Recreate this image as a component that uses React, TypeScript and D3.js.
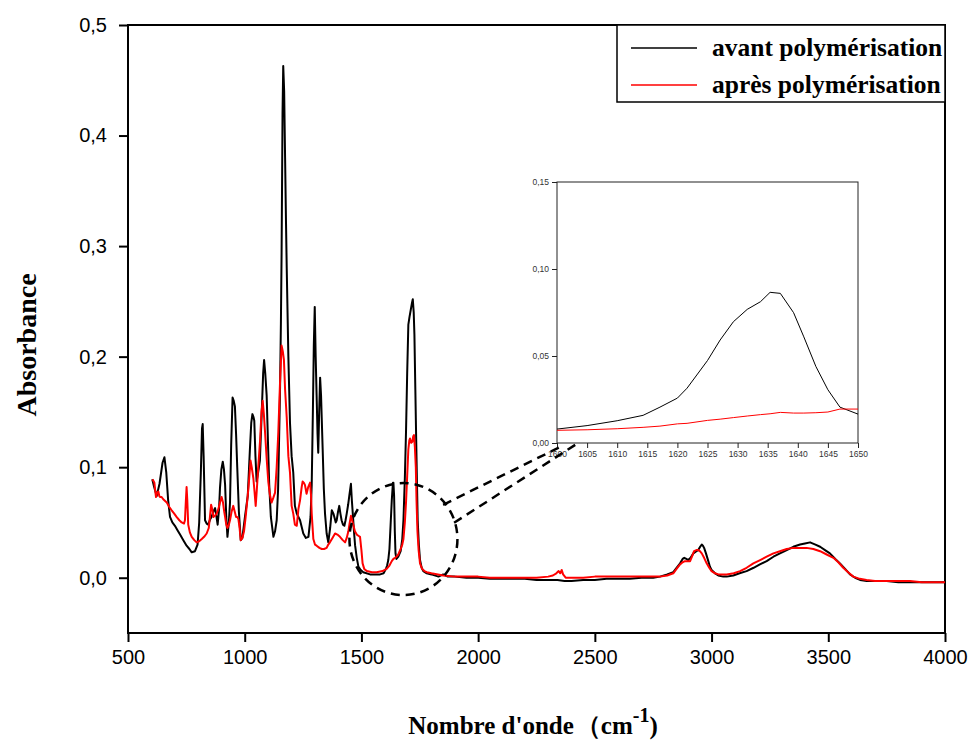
import React, { useRef, useEffect } from 'react';
import * as d3 from 'd3';

// spectrum (cm-1 / absorbance)
const avantWn = [604, 612, 623, 635, 648, 656, 664, 672, 680, 690, 701, 712, 723, 737, 751, 763, 773, 787, 798, 805, 812, 817, 820, 824, 830, 837, 844, 852, 858, 866, 873, 879, 884, 890, 894, 900, 906, 911, 916, 921, 926, 932, 937, 942, 948, 953, 958, 963, 968, 975, 983, 990, 1001, 1013, 1022, 1028, 1033, 1038, 1041, 1046, 1051, 1058, 1065, 1073, 1079, 1083, 1088, 1094, 1100, 1105, 1112, 1123, 1130, 1137, 1143, 1151, 1155, 1158, 1162, 1165, 1169, 1173, 1177, 1180, 1187, 1194, 1201, 1208, 1215, 1223, 1237, 1251, 1262, 1273, 1282, 1287, 1292, 1296, 1300, 1304, 1308, 1312, 1315, 1319, 1323, 1327, 1334, 1339, 1344, 1351, 1358, 1366, 1373, 1380, 1384, 1390, 1394, 1400, 1405, 1410, 1415, 1421, 1427, 1432, 1437, 1443, 1448, 1455, 1459, 1463, 1468, 1473, 1480, 1487, 1497, 1508, 1537, 1580, 1595, 1605, 1610, 1615, 1620, 1625, 1630, 1635, 1637, 1640, 1643, 1646, 1650, 1658, 1668, 1675, 1680, 1686, 1691, 1696, 1701, 1706, 1711, 1716, 1720, 1724, 1727, 1731, 1734, 1738, 1741, 1746, 1751, 1758, 1765, 1780, 1800, 1830, 1850, 1870, 1900, 1950, 2000, 2050, 2100, 2150, 2200, 2250, 2300, 2340, 2370, 2400, 2450, 2500, 2550, 2600, 2650, 2700, 2750, 2779, 2810, 2836, 2850, 2865, 2876, 2883, 2892, 2900, 2910, 2922, 2935, 2943, 2951, 2958, 2963, 2968, 2976, 2986, 2993, 3000, 3015, 3029, 3050, 3065, 3093, 3120, 3150, 3180, 3207, 3236, 3265, 3293, 3322, 3350, 3379, 3400, 3422, 3445, 3465, 3486, 3507, 3530, 3550, 3572, 3593, 3615, 3636, 3665, 3693, 3750, 3800, 3850, 3900, 3950, 4000];
const avantAbs = [0.089, 0.082, 0.074, 0.085, 0.104, 0.109, 0.095, 0.070, 0.055, 0.050, 0.047, 0.043, 0.039, 0.034, 0.029, 0.026, 0.023, 0.024, 0.030, 0.050, 0.095, 0.135, 0.139, 0.110, 0.052, 0.049, 0.048, 0.053, 0.055, 0.060, 0.063, 0.055, 0.048, 0.062, 0.081, 0.098, 0.105, 0.098, 0.084, 0.055, 0.037, 0.050, 0.068, 0.120, 0.163, 0.160, 0.155, 0.130, 0.100, 0.060, 0.034, 0.036, 0.055, 0.074, 0.115, 0.140, 0.148, 0.145, 0.142, 0.110, 0.087, 0.096, 0.106, 0.150, 0.185, 0.197, 0.185, 0.165, 0.120, 0.084, 0.055, 0.037, 0.042, 0.052, 0.080, 0.165, 0.230, 0.294, 0.420, 0.463, 0.440, 0.380, 0.320, 0.280, 0.200, 0.140, 0.110, 0.095, 0.065, 0.058, 0.052, 0.040, 0.036, 0.037, 0.055, 0.084, 0.150, 0.210, 0.245, 0.200, 0.165, 0.130, 0.113, 0.150, 0.181, 0.165, 0.116, 0.080, 0.058, 0.040, 0.032, 0.045, 0.061, 0.058, 0.055, 0.050, 0.052, 0.060, 0.065, 0.058, 0.052, 0.048, 0.047, 0.052, 0.058, 0.066, 0.074, 0.085, 0.070, 0.058, 0.042, 0.029, 0.018, 0.010, 0.007, 0.005, 0.003, 0.003, 0.004, 0.008, 0.011, 0.016, 0.026, 0.048, 0.070, 0.086, 0.086, 0.074, 0.042, 0.022, 0.017, 0.019, 0.024, 0.035, 0.052, 0.090, 0.132, 0.185, 0.229, 0.236, 0.242, 0.248, 0.252, 0.240, 0.220, 0.170, 0.132, 0.085, 0.052, 0.030, 0.016, 0.009, 0.006, 0.004, 0.003, 0.001, 0.003, 0.001, 0.001, 0.000, 0.000, -0.001, -0.001, -0.001, -0.001, -0.002, -0.002, -0.002, -0.003, -0.003, -0.002, -0.002, -0.001, -0.001, -0.001, 0.000, 0.000, 0.001, 0.003, 0.005, 0.009, 0.013, 0.017, 0.018, 0.017, 0.016, 0.018, 0.022, 0.024, 0.025, 0.028, 0.030, 0.029, 0.027, 0.022, 0.015, 0.010, 0.007, 0.004, 0.002, 0.001, 0.001, 0.002, 0.004, 0.006, 0.009, 0.012, 0.015, 0.019, 0.022, 0.025, 0.028, 0.030, 0.031, 0.032, 0.030, 0.028, 0.025, 0.022, 0.017, 0.013, 0.008, 0.003, 0.000, -0.002, -0.003, -0.003, -0.003, -0.004, -0.004, -0.004, -0.004, -0.004];

const apresWn = [604, 608, 613, 617, 620, 625, 630, 634, 637, 644, 651, 666, 677, 687, 698, 708, 720, 730, 740, 744, 748, 751, 754, 758, 765, 773, 784, 794, 805, 816, 826, 837, 846, 851, 856, 861, 866, 872, 880, 887, 894, 901, 907, 912, 916, 921, 926, 932, 937, 944, 951, 957, 963, 968, 973, 978, 983, 990, 997, 1004, 1010, 1016, 1021, 1025, 1030, 1037, 1042, 1047, 1052, 1058, 1066, 1072, 1077, 1082, 1087, 1094, 1101, 1108, 1115, 1122, 1130, 1137, 1144, 1151, 1158, 1163, 1168, 1173, 1180, 1187, 1194, 1201, 1208, 1215, 1223, 1230, 1237, 1244, 1248, 1253, 1258, 1265, 1272, 1280, 1284, 1287, 1294, 1301, 1308, 1320, 1330, 1340, 1351, 1358, 1365, 1376, 1387, 1397, 1408, 1420, 1430, 1437, 1444, 1450, 1455, 1460, 1465, 1472, 1480, 1487, 1494, 1500, 1505, 1512, 1523, 1545, 1565, 1590, 1608, 1620, 1630, 1637, 1644, 1650, 1658, 1668, 1675, 1680, 1686, 1691, 1696, 1701, 1705, 1708, 1713, 1718, 1722, 1725, 1729, 1733, 1736, 1740, 1745, 1751, 1760, 1770, 1780, 1800, 1850, 1900, 1950, 2000, 2050, 2100, 2150, 2200, 2250, 2300, 2320, 2335, 2345, 2352, 2358, 2364, 2375, 2400, 2450, 2500, 2550, 2600, 2650, 2700, 2750, 2779, 2810, 2836, 2850, 2865, 2876, 2886, 2897, 2908, 2916, 2925, 2935, 2943, 2950, 2958, 2968, 2979, 2990, 3000, 3015, 3029, 3065, 3095, 3122, 3150, 3179, 3208, 3236, 3265, 3293, 3322, 3350, 3380, 3407, 3436, 3465, 3493, 3522, 3543, 3564, 3585, 3607, 3635, 3664, 3700, 3764, 3850, 3900, 3950, 4000];
const apresAbs = [0.089, 0.088, 0.086, 0.078, 0.073, 0.077, 0.078, 0.074, 0.073, 0.073, 0.071, 0.068, 0.064, 0.061, 0.058, 0.055, 0.052, 0.050, 0.049, 0.052, 0.070, 0.082, 0.070, 0.048, 0.041, 0.037, 0.034, 0.032, 0.033, 0.035, 0.037, 0.040, 0.045, 0.055, 0.066, 0.062, 0.055, 0.056, 0.058, 0.062, 0.068, 0.073, 0.068, 0.060, 0.055, 0.048, 0.045, 0.048, 0.052, 0.060, 0.065, 0.060, 0.055, 0.055, 0.053, 0.045, 0.034, 0.036, 0.042, 0.055, 0.068, 0.081, 0.095, 0.106, 0.100, 0.090, 0.078, 0.065, 0.080, 0.100, 0.125, 0.150, 0.160, 0.148, 0.132, 0.108, 0.087, 0.075, 0.068, 0.072, 0.077, 0.100, 0.132, 0.175, 0.210, 0.205, 0.197, 0.170, 0.145, 0.110, 0.095, 0.065, 0.058, 0.048, 0.047, 0.062, 0.070, 0.082, 0.087, 0.086, 0.084, 0.076, 0.082, 0.086, 0.075, 0.058, 0.035, 0.030, 0.029, 0.027, 0.026, 0.026, 0.027, 0.030, 0.032, 0.036, 0.040, 0.039, 0.037, 0.034, 0.032, 0.036, 0.042, 0.050, 0.056, 0.052, 0.048, 0.042, 0.039, 0.038, 0.037, 0.025, 0.013, 0.008, 0.006, 0.005, 0.005, 0.006, 0.008, 0.011, 0.015, 0.017, 0.018, 0.019, 0.021, 0.026, 0.030, 0.035, 0.050, 0.068, 0.092, 0.116, 0.124, 0.126, 0.122, 0.123, 0.128, 0.129, 0.118, 0.100, 0.070, 0.042, 0.025, 0.013, 0.008, 0.006, 0.005, 0.004, 0.002, 0.001, 0.001, 0.001, 0.000, 0.000, 0.000, 0.000, 0.000, 0.001, 0.002, 0.004, 0.006, 0.004, 0.007, 0.003, 0.000, 0.000, 0.000, 0.001, 0.001, 0.001, 0.001, 0.001, 0.001, 0.001, 0.002, 0.004, 0.008, 0.012, 0.014, 0.015, 0.015, 0.015, 0.019, 0.024, 0.025, 0.025, 0.024, 0.022, 0.018, 0.013, 0.009, 0.006, 0.004, 0.003, 0.003, 0.004, 0.006, 0.009, 0.013, 0.016, 0.019, 0.022, 0.024, 0.026, 0.027, 0.027, 0.027, 0.026, 0.024, 0.021, 0.018, 0.014, 0.009, 0.005, 0.001, -0.001, -0.002, -0.003, -0.003, -0.003, -0.004, -0.004, -0.004];

// zoomed region 1600-1650 cm-1
const insetWn = [1600, 1605, 1610, 1614.3, 1617.1, 1620, 1621.6, 1625, 1627.1, 1629.3, 1631.6, 1633.8, 1635.4, 1637.1, 1639.3, 1641, 1643, 1645, 1647, 1650];
const insetAvant = [0.008, 0.010, 0.0128, 0.0159, 0.0206, 0.0258, 0.0315, 0.0474, 0.0592, 0.0697, 0.0768, 0.0812, 0.0866, 0.086, 0.0749, 0.061, 0.044, 0.0306, 0.0206, 0.0166];
const insetApres = [0.0073, 0.0076, 0.0082, 0.009, 0.0097, 0.011, 0.0113, 0.013, 0.0137, 0.0146, 0.0155, 0.0163, 0.0168, 0.0176, 0.0172, 0.0172, 0.0174, 0.0178, 0.0195, 0.0195];

const xTicks = [500, 1000, 1500, 2000, 2500, 3000, 3500, 4000];
const yTicks = [0, 0.1, 0.2, 0.3, 0.4, 0.5];
const insetXTicks = [1600, 1605, 1610, 1615, 1620, 1625, 1630, 1635, 1640, 1645, 1650];
const insetYTicks = [0, 0.05, 0.1, 0.15];
const legendLabels = ['avant polymérisation', 'après polymérisation'];
const colors = ['#000000', '#ff0000'];

const App = () => {
  const svgRef = useRef(null);

  useEffect(() => {
    document.body.style.margin = '0';
    const svg = d3.select(svgRef.current);
    svg.selectAll('*').remove();

    const W = 976, H = 742;
    const margin = { top: 25, right: 31, bottom: 109, left: 128 };
    const w = W - margin.left - margin.right;
    const h = H - margin.top - margin.bottom;

    const x = d3.scaleLinear().domain([500, 4000]).range([0, w]);
    const y = d3.scaleLinear().domain([-0.05, 0.5]).range([h, 0]);
    const comma = (f) => (d) => d3.format(f)(d).replace('.', ',');

    const g = svg.append('g').attr('transform', `translate(${margin.left},${margin.top})`);

    // frame
    g.append('rect').attr('width', w).attr('height', h)
      .attr('fill', 'none').attr('stroke', '#000').attr('stroke-width', 2);

    // x axis
    const xAxis = g.append('g').attr('transform', `translate(0,${h})`);
    xAxis.call(d3.axisBottom(x).tickValues(d3.range(500, 4001, 250)).tickSize(6).tickFormat(() => ''));
    xAxis.call(d3.axisBottom(x).tickValues(xTicks).tickSize(9).tickPadding(8).tickFormat(d3.format('d')));
    xAxis.selectAll('.domain').remove();
    xAxis.selectAll('line').attr('stroke-width', 2);
    xAxis.selectAll('text').attr('font-family', 'Liberation Sans, Arial, sans-serif').attr('font-size', 20).attr('fill', '#000');

    // y axis
    const yAxis = g.append('g');
    yAxis.call(d3.axisLeft(y).tickValues(d3.range(-0.05, 0.501, 0.05)).tickSize(6).tickFormat(() => ''));
    yAxis.call(d3.axisLeft(y).tickValues(yTicks).tickSize(9).tickPadding(12).tickFormat(comma('.1f')));
    yAxis.selectAll('.domain').remove();
    yAxis.selectAll('line').attr('stroke-width', 2);
    yAxis.selectAll('text').attr('font-family', 'Liberation Sans, Arial, sans-serif').attr('font-size', 20).attr('fill', '#000');

    // curves
    const line = d3.line().x(d => x(d[0])).y(d => y(d[1]));
    const series = [
      d3.zip(avantWn, avantAbs),
      d3.zip(apresWn, apresAbs),
    ];
    series.forEach((s, i) => {
      g.append('path').datum(s)
        .attr('fill', 'none').attr('stroke', colors[i]).attr('stroke-width', 2)
        .attr('stroke-linejoin', 'round').attr('d', line);
    });

    // legend
    const legend = g.append('g').attr('transform', `translate(${w - 328},0)`);
    legend.append('rect').attr('width', 328).attr('height', 77)
      .attr('fill', '#fff').attr('stroke', '#000').attr('stroke-width', 1.5);
    legendLabels.forEach((lab, i) => {
      const ly = 23 + i * 37;
      legend.append('line').attr('x1', 14).attr('x2', 80).attr('y1', ly).attr('y2', ly)
        .attr('stroke', colors[i]).attr('stroke-width', 1.5);
      legend.append('text').attr('x', 95).attr('y', ly + 8)
        .attr('font-family', 'Liberation Serif, Times New Roman, serif').attr('font-weight', 'bold')
        .attr('font-size', 25.5).text(lab);
    });

    // dashed circle around 1600-1750 region and connectors
    const cx = x(1680), cy = y(0.035);
    g.append('ellipse').attr('cx', cx).attr('cy', cy).attr('rx', 54).attr('ry', 56)
      .attr('fill', 'none').attr('stroke', '#000').attr('stroke-width', 2.5).attr('stroke-dasharray', '9,6');

    // inset
    const ix0 = 557 - margin.left, iy0 = 182 - margin.top;
    const iw = 301, ih = 261;
    const xi = d3.scaleLinear().domain([1600, 1650]).range([0, iw]);
    const yi = d3.scaleLinear().domain([0, 0.15]).range([ih, 0]);
    const inset = g.append('g').attr('transform', `translate(${ix0},${iy0})`);
    inset.append('rect').attr('width', iw).attr('height', ih)
      .attr('fill', '#fff').attr('stroke', '#222').attr('stroke-width', 1);
    const ixa = inset.append('g').attr('transform', `translate(0,${ih})`);
    ixa.call(d3.axisBottom(xi).tickValues(d3.range(1600, 1650.1, 2.5)).tickSize(3).tickFormat(() => ''));
    ixa.call(d3.axisBottom(xi).tickValues(insetXTicks).tickSize(5).tickPadding(3).tickFormat(d3.format('d')));
    const iya = inset.append('g');
    iya.call(d3.axisLeft(yi).tickValues(d3.range(0, 0.1501, 0.025)).tickSize(3).tickFormat(() => ''));
    iya.call(d3.axisLeft(yi).tickValues(insetYTicks).tickSize(5).tickPadding(3).tickFormat(comma('.2f')));
    [ixa, iya].forEach(a => {
      a.selectAll('.domain').remove();
      a.selectAll('line').attr('stroke', '#222');
      a.selectAll('text').attr('font-family', 'Liberation Sans, Arial, sans-serif').attr('font-size', 8.5).attr('fill', '#333');
    });
    const iline = d3.line().x(d => xi(d[0])).y(d => yi(d[1]));
    [d3.zip(insetWn, insetAvant), d3.zip(insetWn, insetApres)].forEach((s, i) => {
      inset.append('path').datum(s)
        .attr('fill', 'none').attr('stroke', colors[i]).attr('stroke-width', 1).attr('d', iline);
    });

    // connectors from circle to inset corner
    const connectors = [
      [[1850, 0.066], [1600.5, -0.0023]],
      [[1897, 0.0497], [1603.5, 0.0]],
    ];
    connectors.forEach(([a, b]) => {
      g.append('line')
        .attr('x1', x(a[0])).attr('y1', y(a[1]))
        .attr('x2', ix0 + xi(b[0])).attr('y2', iy0 + yi(b[1]))
        .attr('stroke', '#000').attr('stroke-width', 2.5).attr('stroke-dasharray', '9,6');
    });

    // axis titles
    svg.append('text')
      .attr('transform', `translate(36,345) rotate(-90)`)
      .attr('text-anchor', 'middle')
      .attr('font-family', 'Liberation Serif, Times New Roman, serif').attr('font-weight', 'bold')
      .attr('font-size', 28).text('Absorbance');

    const xt = svg.append('text')
      .attr('x', 533).attr('y', 734)
      .attr('text-anchor', 'middle')
      .attr('font-family', 'Liberation Serif, Times New Roman, serif').attr('font-weight', 'bold')
      .attr('font-size', 25);
    xt.append('tspan').text("Nombre d'onde");
    xt.append('tspan').attr('dx', 2).text('（cm');
    xt.append('tspan').attr('dy', -12).attr('font-size', 20).text('-1');
    xt.append('tspan').attr('dy', 12).text(')');
  }, []);

  return (
    <svg ref={svgRef} width={976} height={742} style={{ display: 'block', background: '#fff' }}></svg>
  );
};

export default App;
